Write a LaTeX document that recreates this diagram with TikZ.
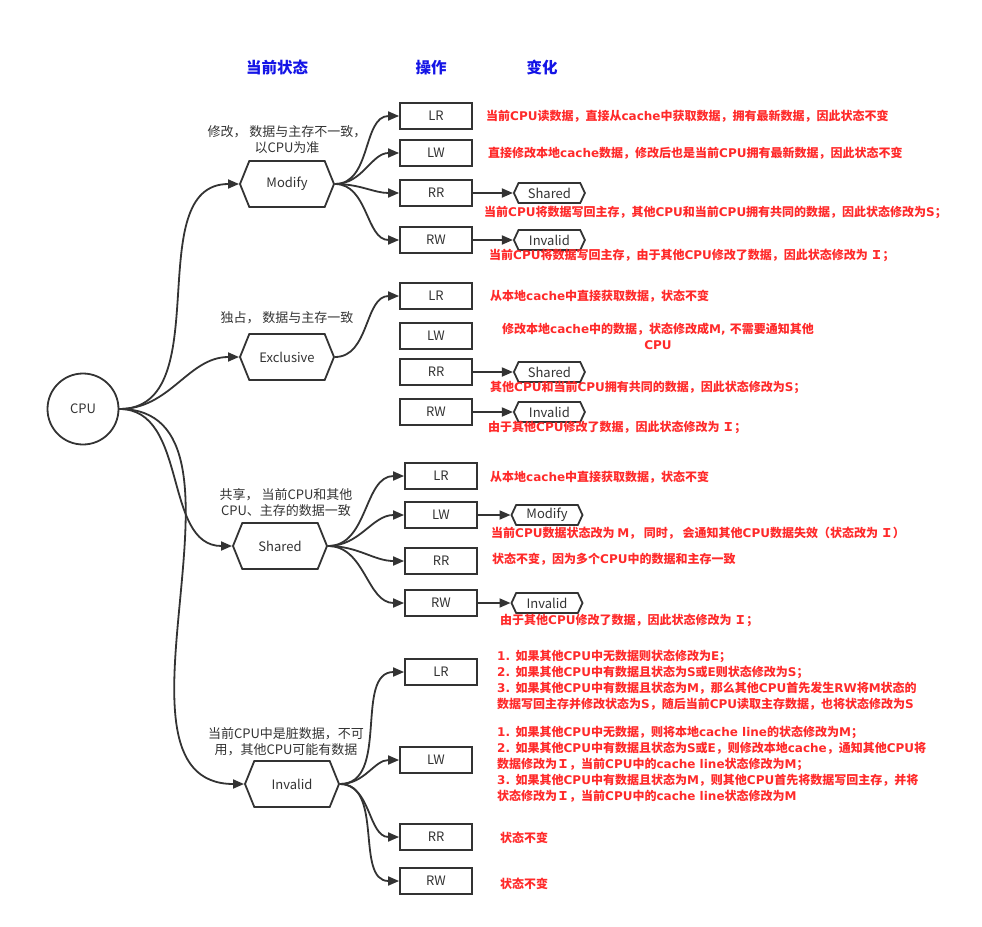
\documentclass[tikz,border=0pt]{standalone}
\usepackage{fontspec}
\setmainfont{Noto Sans CJK SC}
\newfontfamily\cjkfont{Noto Sans CJK SC}
\newfontfamily\latfont{DejaVu Sans}
\usetikzlibrary{shapes.symbols, arrows.meta, positioning}
\definecolor{linegray}{HTML}{333333}
\definecolor{notered}{HTML}{FF2A2A}
\definecolor{headblue}{HTML}{1414E6}
% CJK characters get class 1, so that fonts switch between CJK and Latin runs
\newcount\cjkc
\def\setcjkclass#1#2{\cjkc=#1\relax
  \loop \XeTeXcharclass\cjkc=1\relax
  \ifnum\cjkc<#2\relax \advance\cjkc by 1\relax \repeat}
\setcjkclass{"3000}{"303F}
\setcjkclass{"4E00}{"9FFF}
\setcjkclass{"FF00}{"FFEF}
\XeTeXinterchartoks 0 1 = {\cjkfont}
\XeTeXinterchartoks 1 0 = {\latfont}
\XeTeXinterchartoks 4095 0 = {\latfont}
\XeTeXinterchartoks 4095 1 = {\cjkfont}
\newcommand\mixfont{\XeTeXinterchartokenstate=1\relax}

\begin{document}
\begin{tikzpicture}[
    x=1pt, y=-1pt,
    font=\fontsize{13}{16}\selectfont,
    cpunode/.style={circle, draw=linegray, line width=1.8pt, minimum size=71pt, inner sep=0pt, text=linegray},
    state/.style={shape=signal, signal to=east and west, signal pointer angle=136, draw=linegray, line width=1.8pt, minimum width=94pt, minimum height=46pt, inner sep=0pt, text=linegray},
    result/.style={shape=signal, signal to=east and west, signal pointer angle=130, draw=linegray, line width=1.8pt, minimum width=71pt, minimum height=20pt, inner sep=0pt, text=linegray},
    opbox/.style={rectangle, draw=linegray, line width=1.8pt, minimum width=72pt, minimum height=26pt, inner sep=0pt, text=linegray},
    head/.style={text=headblue, font=\fontsize{15.5}{18}\selectfont\bfseries},
    desc/.style={text=linegray, align=center, inner sep=0pt},
    note/.style={anchor=west, text=notered, align=left, inner sep=0pt, font=\fontsize{12}{16}\selectfont\bfseries\mixfont},
    arrow/.style={-{Triangle[length=11pt, width=9pt]}, line width=1.8pt, draw=linegray}
]
\useasboundingbox (0,0) rectangle (982,926);

% Headers
\node[head] (h_state) at (277,68) {当前状态};
\node[head] (h_op) at (431,68) {操作};
\node[head] (h_change) at (542,68) {变化};

% CPU
\node[cpunode] (cpu) at (83,409) {CPU};

% Modify
\node[state] (modify) at (287,184) {Modify};
\node[desc] (modify_desc) at (287,140) {修改， 数据与主存不一致，\\以CPU为准};
\node[opbox] (m_lr) at (436,116) {LR};
\node[opbox] (m_lw) at (436,153) {LW};
\node[opbox] (m_rr) at (436,193) {RR};
\node[opbox] (m_rw) at (436,240) {RW};
\node[result, right=40pt of m_rr] (m_rr_s) {Shared};
\node[result, right=40pt of m_rw] (m_rw_s) {Invalid};
\node[note] (m_lr_note) at (486,116) {当前CPU读数据，直接从cache中获取数据，拥有最新数据，因此状态不变};
\node[note] (m_lw_note) at (488,153) {直接修改本地cache数据，修改后也是当前CPU拥有最新数据，因此状态不变};
\node[note] (m_rr_note) at (484,212) {当前CPU将数据写回主存，其他CPU和当前CPU拥有共同的数据，因此状态修改为S；};
\node[note] (m_rw_note) at (489,255) {当前CPU将数据写回主存，由于其他CPU修改了数据，因此状态修改为 Ｉ；};

% Exclusive
\node[state] (exclusive) at (287,357) {Exclusive};
\node[desc] (exclusive_desc) at (287,318) {独占， 数据与主存一致};
\node[opbox] (e_lr) at (436,296) {LR};
\node[opbox] (e_lw) at (436,336) {LW};
\node[opbox] (e_rr) at (436,372) {RR};
\node[opbox] (e_rw) at (436,412) {RW};
\node[result, right=40pt of e_rr] (e_rr_s) {Shared};
\node[result, right=40pt of e_rw] (e_rw_s) {Invalid};
\node[note] (e_lr_note) at (490,296) {从本地cache中直接获取数据，状态不变};
\node[note, anchor=center, align=center] (e_lw_note) at (658,336) {修改本地cache中的数据，状态修改成M, 不需要通知其他\\CPU};
\node[note] (e_rr_note) at (490,387) {其他CPU和当前CPU拥有共同的数据，因此状态修改为S；};
\node[note] (e_rw_note) at (488,427) {由于其他CPU修改了数据，因此状态修改为 Ｉ；};

% Shared
\node[state] (shared) at (280,546) {Shared};
\node[desc] (shared_desc) at (286,503) {共享， 当前CPU和其他\\CPU、主存的数据一致};
\node[opbox] (s_lr) at (441,476) {LR};
\node[opbox] (s_lw) at (441,515) {LW};
\node[opbox] (s_rr) at (441,561) {RR};
\node[opbox] (s_rw) at (441,603) {RW};
\node[result] (s_lw_m) at (547,515) {Modify};
\node[result] (s_rw_i) at (547,603) {Invalid};
\node[note] (s_lr_note) at (490,477) {从本地cache中直接获取数据，状态不变};
\node[note] (s_lw_note) at (491,533) {当前CPU数据状态改为 M， 同时， 会通知其他CPU数据失效（状态改为 Ｉ）};
\node[note] (s_rr_note) at (492,559) {状态不变，因为多个CPU中的数据和主存一致};
\node[note] (s_rw_note) at (500,620) {由于其他CPU修改了数据，因此状态修改为 Ｉ；};

% Invalid
\node[state] (invalid) at (292,784) {Invalid};
\node[desc] (invalid_desc) at (286,742) {当前CPU中是脏数据，不可\\用，其他CPU可能有数据};
\node[opbox] (i_lr) at (441,672) {LR};
\node[opbox] (i_lw) at (436,760) {LW};
\node[opbox] (i_rr) at (436,837) {RR};
\node[opbox] (i_rw) at (436,881) {RW};
\node[note] (i_lr_note) at (497,680) {1. 如果其他CPU中无数据则状态修改为E；\\2. 如果其他CPU中有数据且状态为S或E则状态修改为S；\\3. 如果其他CPU中有数据且状态为M，那么其他CPU首先发生RW将M状态的\\数据写回主存并修改状态为S，随后当前CPU读取主存数据，也将状态修改为S};
\node[note] (i_lw_note) at (497,764) {1. 如果其他CPU中无数据，则将本地cache line的状态修改为M；\\2. 如果其他CPU中有数据且状态为S或E，则修改本地cache，通知其他CPU将\\数据修改为Ｉ，当前CPU中的cache line状态修改为M；\\3. 如果其他CPU中有数据且状态为M，则其他CPU首先将数据写回主存，并将\\状态修改为Ｉ，当前CPU中的cache line状态修改为M};
\node[note] (i_rr_note) at (500,838) {状态不变};
\node[note] (i_rw_note) at (500,884) {状态不变};

% CPU links
\foreach \s in {modify, exclusive, shared, invalid}
    \draw[arrow] (cpu.east) to[out=0, in=180] (\s.west);

% state to operation links
\foreach \o in {m_lr, m_lw, m_rr, m_rw}
    \draw[arrow] (modify.east) to[out=0, in=180] (\o.west);
\draw[arrow] (exclusive.east) to[out=0, in=180] (e_lr.west);
\foreach \o in {s_lr, s_lw, s_rr, s_rw}
    \draw[arrow] (shared.east) to[out=0, in=180] (\o.west);
\foreach \o in {i_lr, i_lw, i_rr, i_rw}
    \draw[arrow] (invalid.east) to[out=0, in=180] (\o.west);

% results
\draw[arrow] (m_rr) -- (m_rr_s);
\draw[arrow] (m_rw) -- (m_rw_s);
\draw[arrow] (e_rr) -- (e_rr_s);
\draw[arrow] (e_rw) -- (e_rw_s);
\draw[arrow] (s_lw) -- (s_lw_m);
\draw[arrow] (s_rw) -- (s_rw_i);

\end{tikzpicture}
\end{document}
